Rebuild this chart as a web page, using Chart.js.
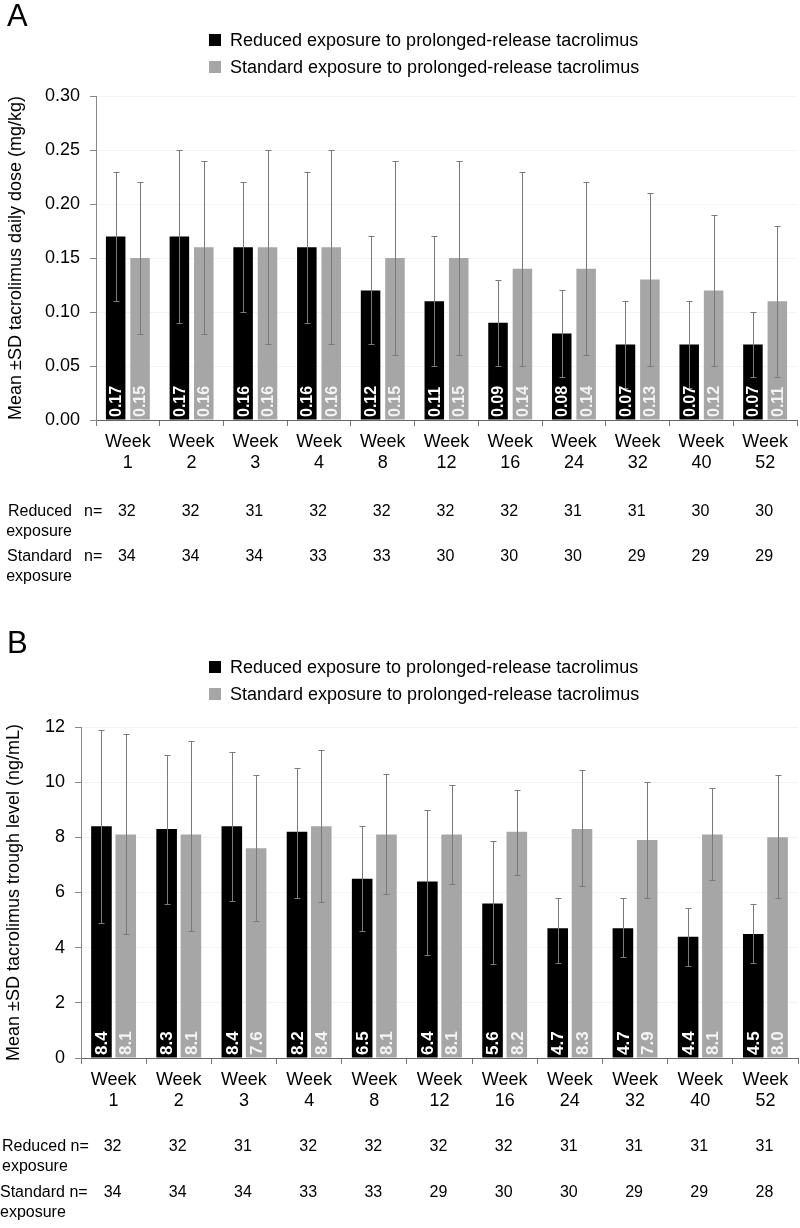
<!DOCTYPE html>
<html><head><meta charset="utf-8">
<script src="https://cdn.jsdelivr.net/npm/chart.js@4.4.1/dist/chart.umd.min.js"></script>
<style>
html,body{margin:0;padding:0;background:#fff;}
#wrapA{position:absolute;left:0;top:0;width:800px;height:614px;}
#wrapB{position:absolute;left:0;top:614px;width:800px;height:614px;}
canvas{display:block;}
</style></head><body>
<div id="wrapA"><canvas id="cA" width="800" height="614"></canvas></div>
<div id="wrapB"><canvas id="cB" width="800" height="614"></canvas></div>
<script>
// ---- Data ----
const weeks = ['1','2','3','4','8','12','16','24','32','40','52'];
const seriesNames = ['Reduced exposure to prolonged-release tacrolimus','Standard exposure to prolonged-release tacrolimus'];

// Panel A: mean ±SD daily dose (mg/kg)
const doseReduced    = [0.17,0.17,0.16,0.16,0.12,0.11,0.09,0.08,0.07,0.07,0.07];
const doseStandard   = [0.15,0.16,0.16,0.16,0.15,0.15,0.14,0.14,0.13,0.12,0.11];
const doseReducedHi  = [0.23,0.25,0.22,0.23,0.17,0.17,0.13,0.12,0.11,0.11,0.10];
const doseReducedLo  = [0.11,0.09,0.10,0.09,0.07,0.05,0.05,0.04,0.03,0.03,0.04];
const doseStandardHi = [0.22,0.24,0.25,0.25,0.24,0.24,0.23,0.22,0.21,0.19,0.18];
const doseStandardLo = [0.08,0.08,0.07,0.07,0.06,0.06,0.05,0.06,0.05,0.05,0.04];
const nReducedA  = [32,32,31,32,32,32,32,31,31,30,30];
const nStandardA = [34,34,34,33,33,30,30,30,29,29,29];

// Panel B: mean ±SD trough level (ng/mL)
const troughReduced    = [8.4,8.3,8.4,8.2,6.5,6.4,5.6,4.7,4.7,4.4,4.5];
const troughStandard   = [8.1,8.1,7.6,8.4,8.1,8.1,8.2,8.3,7.9,8.1,8.0];
const troughReducedHi  = [11.9,11.0,11.1,10.5,8.4,9.0,7.85,5.8,5.8,5.45,5.6];
const troughReducedLo  = [4.9,5.6,5.7,5.8,4.6,3.75,3.4,3.45,3.65,3.35,3.45];
const troughStandardHi = [11.75,11.5,10.25,11.15,10.3,9.9,9.7,10.45,10.0,9.8,10.25];
const troughStandardLo = [4.5,4.6,4.95,5.65,5.95,6.3,6.65,6.25,5.8,6.45,5.8];
const nReducedB  = [32,32,31,32,32,32,32,31,31,31,31];
const nStandardB = [34,34,34,33,33,29,30,30,29,29,28];

const F = "'Liberation Sans', Arial, sans-serif";
const BLACK = '#000000', GREY = '#a6a6a6';

const errorPlugin = {id:'errbars', afterDatasetsDraw(chart){
  const ctx = chart.ctx, ys = chart.scales.y;
  chart.data.datasets.forEach((ds, di) => {
    const meta = chart.getDatasetMeta(di);
    meta.data.forEach((bar, i) => {
      const x = Math.round(bar.x) + 0.5;
      const t = Math.round(ys.getPixelForValue(ds.hi[i])) + 0.5;
      const b = Math.round(ys.getPixelForValue(ds.lo[i])) + 0.5;
      ctx.save();
      ctx.strokeStyle = '#7a7a7a'; ctx.lineWidth = 1;
      ctx.beginPath();
      ctx.moveTo(x, t); ctx.lineTo(x, b);
      ctx.moveTo(x-3, t); ctx.lineTo(x+3, t);
      ctx.moveTo(x-3, b); ctx.lineTo(x+3, b);
      ctx.stroke();
      ctx.restore();
    });
  });
}};

function labelPlugin(fmt, size){
  return {id:'vallabels', afterDatasetsDraw(chart){
    const ctx = chart.ctx, ys = chart.scales.y;
    chart.data.datasets.forEach((ds, di) => {
      const meta = chart.getDatasetMeta(di);
      meta.data.forEach((bar, i) => {
        ctx.save();
        ctx.translate(bar.x + 1, ys.bottom - 3);
        ctx.rotate(-Math.PI/2);
        ctx.textAlign = 'left'; ctx.textBaseline = 'middle';
        ctx.font = 'bold ' + size + 'px ' + F;
        ctx.fillStyle = ds.labelColor;
        ctx.fillText(fmt(ds.data[i]), 0, 0);
        ctx.restore();
      });
    });
  }};
}

function decorPlugin(o){
  return {id:'decor', afterDraw(chart){
    const ctx = chart.ctx, xs = chart.scales.x;
    ctx.save();
    ctx.fillStyle = '#000';
    ctx.font = '31px ' + F; ctx.textAlign = 'left'; ctx.textBaseline = 'alphabetic';
    ctx.fillText(o.letter, 7, o.letterY);
    ctx.font = '18px ' + F; ctx.textBaseline = 'middle';
    chart.data.datasets.forEach((ds, di) => {
      const y = o.legY[di];
      ctx.fillStyle = ds.backgroundColor;
      ctx.fillRect(209, y - 6, 12, 12);
      ctx.fillStyle = '#000';
      ctx.fillText(ds.label, 230, y + 1);
    });
    ctx.font = '16px ' + F; ctx.fillStyle = '#000';
    o.rows.forEach(r => {
      r.text.forEach((t, k) => {
        ctx.textAlign = r.align; ctx.fillText(t, r.x, r.y + k*20);
      });
      if (r.nx) { ctx.textAlign = 'left'; ctx.fillText('n=', r.nx, r.y); }
      ctx.textAlign = 'center';
      r.vals.forEach((v, i) => ctx.fillText(String(v), xs.getPixelForValue(i) - 1, r.y));
    });
    ctx.restore();
  }};
}

function build(id, o){
  return new Chart(document.getElementById(id), {
    type: 'bar',
    data: {
      labels: weeks.map(w => ['Week', w]),
      datasets: [
        {label: seriesNames[0], data: o.red, backgroundColor: BLACK, hi: o.redHi, lo: o.redLo, labelColor: '#ffffff'},
        {label: seriesNames[1], data: o.std, backgroundColor: GREY, hi: o.stdHi, lo: o.stdLo, labelColor: '#f4f4f4'}
      ]
    },
    options: {
      responsive: false, animation: false, devicePixelRatio: 1,
      layout: {padding: {left: 0, right: o.padRight, top: o.padTop, bottom: 0}},
      datasets: {bar: {categoryPercentage: o.cat, barPercentage: o.bar}},
      plugins: {legend: {display: false}, tooltip: {enabled: false}},
      scales: {
        x: {
          grid: {display: true, drawOnChartArea: false, tickLength: 6, tickColor: '#777', offset: true},
          border: {color: '#666'},
          ticks: {font: {family: F, size: 18, lineHeight: 1.2}, color: '#000', padding: 5, maxRotation: 0, autoSkip: false},
          afterFit: s => { s.height = o.xHeight; }
        },
        y: {
          min: 0, max: o.max,
          ticks: {stepSize: o.step, callback: v => o.tickFmt(v), font: {family: F, size: 18}, color: '#000', padding: 10},
          grid: {color: '#f3f3f3', tickColor: '#888', tickLength: 6},
          border: {color: '#888'},
          title: {display: true, text: o.yTitle, font: {family: F, size: 18, lineHeight: 1.2}, color: '#000', padding: {top: o.titlePad, bottom: 0}},
          afterFit: s => { s.width = o.yWidth; }
        }
      }
    },
    plugins: [errorPlugin, labelPlugin(o.valFmt, o.valSize), decorPlugin(o.decor)]
  });
}

build('cA', {
  red: doseReduced, std: doseStandard, redHi: doseReducedHi, redLo: doseReducedLo, stdHi: doseStandardHi, stdLo: doseStandardLo,
  padRight: 3, padTop: 96, xHeight: 194, yWidth: 96, cat: 0.766, bar: 0.8,
  max: 0.30, step: 0.05, tickFmt: v => Number(v).toFixed(2), valFmt: v => v.toFixed(2), valSize: 16,
  yTitle: 'Mean ±SD tacrolimus daily dose (mg/kg)', titlePad: 5,
  decor: {letter: 'A', letterY: 26, legY: [40, 67], rows: [
    {text: ['Reduced', 'exposure'], align: 'right', x: 72, nx: 84, y: 512, vals: nReducedA},
    {text: ['Standard', 'exposure'], align: 'right', x: 72, nx: 84, y: 557, vals: nStandardA}
  ]}
});

build('cB', {
  red: troughReduced, std: troughStandard, redHi: troughReducedHi, redLo: troughReducedLo, stdHi: troughStandardHi, stdLo: troughStandardLo,
  padRight: 2, padTop: 113, xHeight: 170, yWidth: 81, cat: 0.745, bar: 0.848,
  max: 12, step: 2, tickFmt: v => String(v), valFmt: v => v.toFixed(1), valSize: 17,
  yTitle: 'Mean ±SD tacrolimus trough level (ng/mL)', titlePad: 3,
  decor: {letter: 'B', letterY: 39, legY: [53, 80], rows: [
    {text: ['Reduced n=', 'exposure'], align: 'left', x: 2, nx: null, y: 533, vals: nReducedB},
    {text: ['Standard n=', 'exposure'], align: 'left', x: 0, nx: null, y: 579, vals: nStandardB}
  ]}
});
</script>
</body></html>
